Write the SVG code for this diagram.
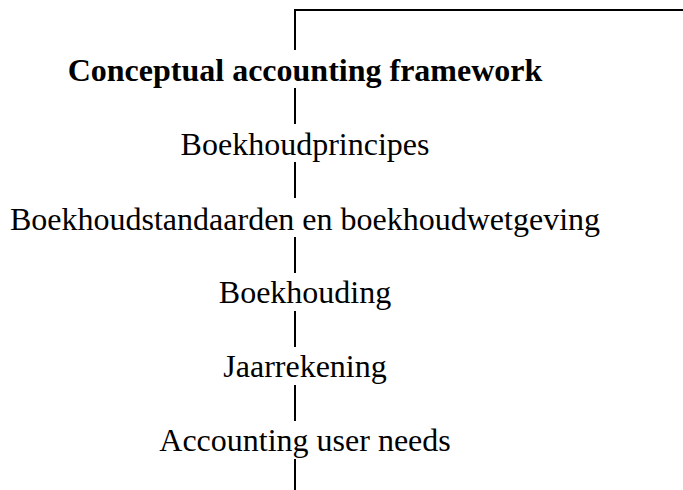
<svg xmlns="http://www.w3.org/2000/svg" width="683" height="490" viewBox="0 0 683 490">
  <style>
    .lbl { font-family: "Liberation Serif", "Times New Roman", serif; font-size: 32px; fill: #000; text-anchor: middle; }
    .title { font-weight: bold; }
    .conn { stroke: #000; stroke-width: 2; fill: none; }
  </style>
  <rect width="683" height="490" fill="#fff"/>

  <!-- vertical chain of links between the levels -->
  <g id="connectors">
    <polyline class="conn" points="683,10 295,10 295,50"/>
    <line class="conn" x1="295" y1="88" x2="295" y2="124"/>
    <line class="conn" x1="295" y1="162" x2="295" y2="198"/>
    <line class="conn" x1="295" y1="237" x2="295" y2="273"/>
    <line class="conn" x1="295" y1="311" x2="295" y2="347"/>
    <line class="conn" x1="295" y1="385" x2="295" y2="421"/>
    <line class="conn" x1="295" y1="459" x2="295" y2="490"/>
  </g>

  <g id="framework">
    <text class="lbl title" x="305" y="81">Conceptual accounting framework</text>
  </g>
  <g id="principes">
    <text class="lbl" x="305" y="155">Boekhoudprincipes</text>
  </g>
  <g id="standaarden">
    <text class="lbl" x="305" y="230">Boekhoudstandaarden en boekhoudwetgeving</text>
  </g>
  <g id="boekhouding">
    <text class="lbl" x="305" y="303">Boekhouding</text>
  </g>
  <g id="jaarrekening">
    <text class="lbl" x="305" y="377">Jaarrekening</text>
  </g>
  <g id="user-needs">
    <text class="lbl" x="305" y="451">Accounting user needs</text>
  </g>
</svg>
